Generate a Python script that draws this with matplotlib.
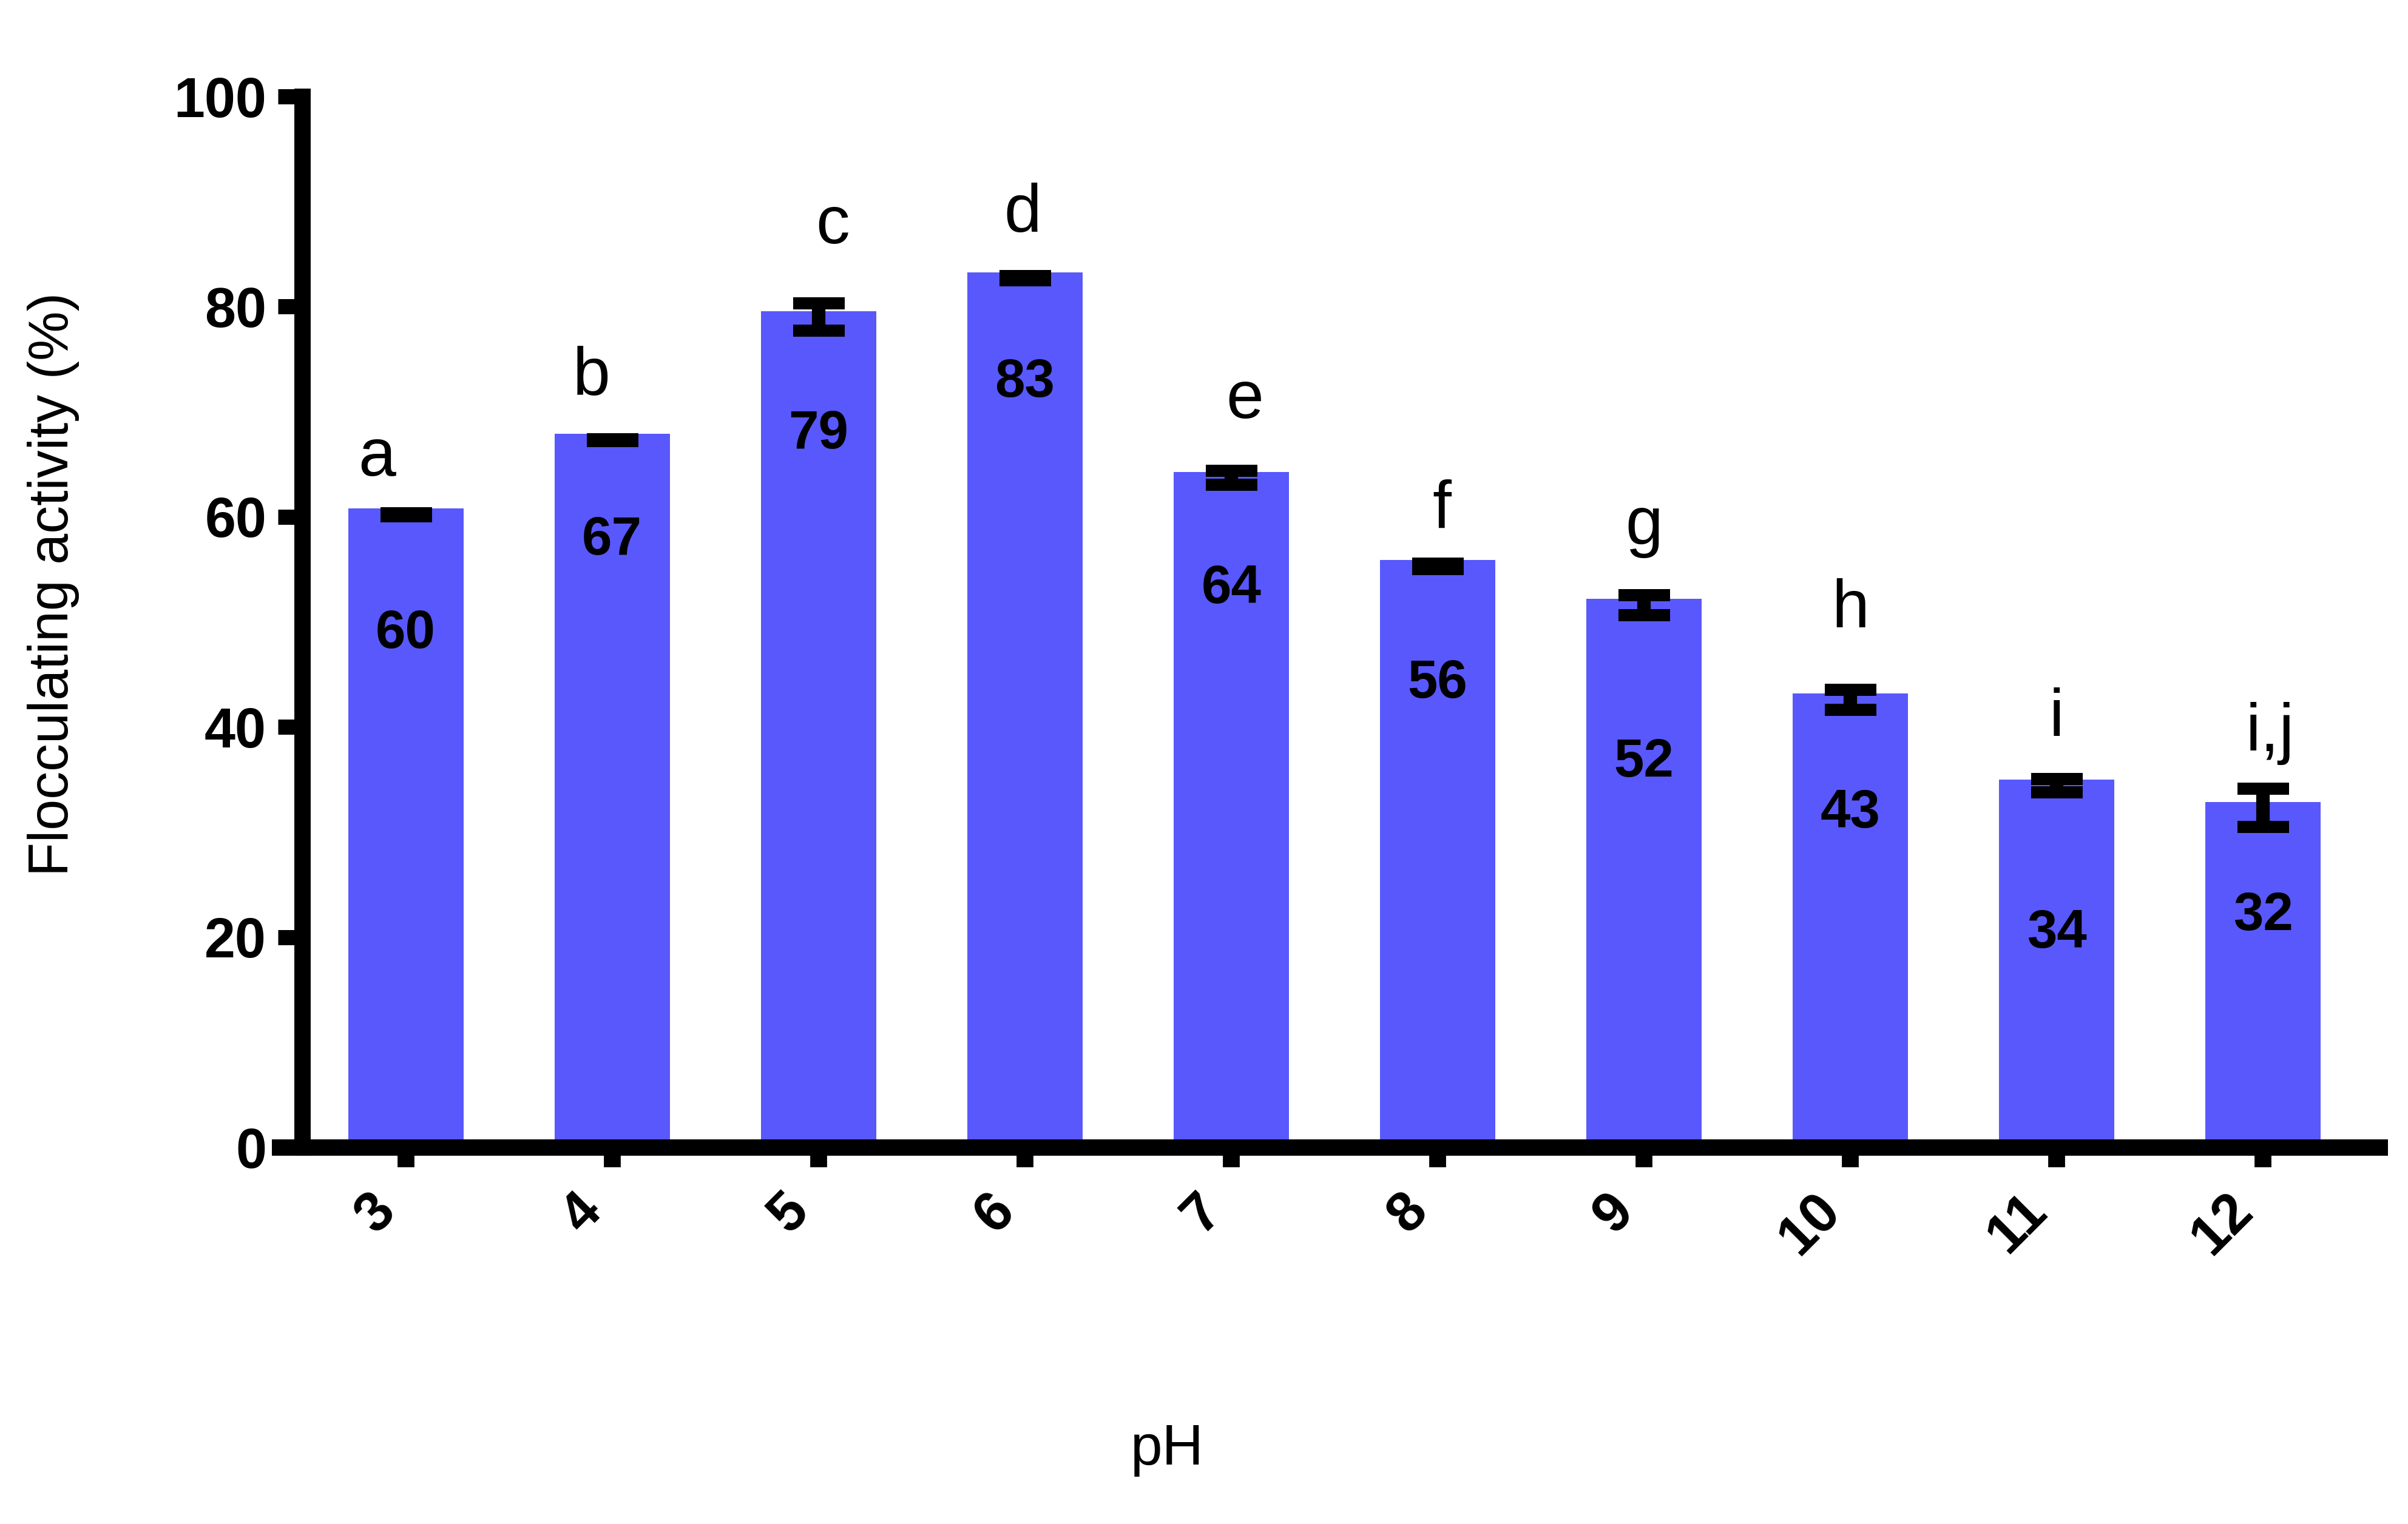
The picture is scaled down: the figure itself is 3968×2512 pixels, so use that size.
import numpy as np
import matplotlib
matplotlib.use('Agg')
import matplotlib.pyplot as plt
from matplotlib import font_manager as fm

# data
ph = ['3', '4', '5', '6', '7', '8', '9', '10', '11', '12']
activity = [60.2, 67.3, 79.0, 82.7, 63.7, 55.3, 51.6, 42.6, 34.4, 32.3]
sd = [0.15, 0.1, 1.3, 0.2, 0.65, 0.25, 0.95, 0.95, 0.65, 1.8]
value_labels = ['60', '67', '79', '83', '64', '56', '52', '43', '34', '32']
value_label_y = [47.5, 56.4, 66.5, 71.4, 51.8, 42.8, 35.3, 30.4, 19.0, 20.7]
letters = ['a', 'b', 'c', 'd', 'e', 'f', 'g', 'h', 'i', 'i,j']
letter_y = [63.9, 71.6, 86.0, 87.1, 69.4, 58.9, 57.4, 49.5, 39.1, 37.7]
letter_dx = [-0.14, -0.1, 0.07, -0.01, 0.065, 0.02, 0.0, 0.0, 0.0, 0.035]
yticks = [0, 20, 40, 60, 80, 100]

bar_color = '#5858FC'
plt.rcParams['font.family'] = ['Liberation Sans', 'DejaVu Sans']

# narrow face for the y label if it is there
try:
    fm.findfont('Liberation Sans Narrow', fallback_to_default=False)
    ylab_font, ylab_size = ['Liberation Sans Narrow', 'Liberation Sans'], 39
except ValueError:
    ylab_font, ylab_size = ['Liberation Sans'], 33

fig = plt.figure(figsize=(19.84, 12.56), dpi=200)
ax = fig.add_axes([0.1162, 0.2472, 0.8720, 0.6895])

# spines first: moving a spine resets the ticks
ax.spines['top'].set_visible(False)
ax.spines['right'].set_visible(False)
ax.spines['left'].set_position(('data', -0.5))
ax.spines['left'].set_bounds(0, 100)
ax.spines['left'].set_capstyle('projecting')
ax.spines['left'].set_linewidth(9.7)
ax.spines['bottom'].set_linewidth(9.7)

x = np.arange(len(ph))
ax.bar(x, activity, width=0.5, color=bar_color, edgecolor=bar_color,
       linewidth=7.2, zorder=2)
ax.errorbar(x, activity, yerr=sd, fmt='none', ecolor='black',
            elinewidth=8, capsize=15.3, capthick=7.2, zorder=3)

for i in range(len(ph)):
    ax.text(x[i], value_label_y[i], value_labels[i], ha='center', va='baseline',
            fontsize=32, fontweight='bold', zorder=4)
    ax.text(x[i] + letter_dx[i], letter_y[i], letters[i], ha='center',
            va='baseline', fontsize=40, zorder=4, clip_on=False)

ax.set_xlim(-0.61, 9.565)
ax.set_ylim(0, 100)
ax.set_yticks(yticks, labels=[str(v) for v in yticks], fontsize=33,
              fontweight='bold')
ax.set_xticks(x, labels=ph, rotation=45, ha='right', fontsize=33,
              fontweight='bold')
ax.tick_params(axis='y', length=14.4, width=9, pad=7, direction='out')
ax.tick_params(axis='x', length=12, width=10, pad=10, direction='out')

fig.text(88 / 3968, 1 - 963 / 2512, 'Flocculating activity (%)', rotation=90,
         ha='center', va='center', fontsize=ylab_size, family=ylab_font)
fig.text(1923 / 3968, 1 - 2414 / 2512, 'pH', ha='center', va='baseline',
         fontsize=34)

plt.savefig('out.png', dpi=200)
